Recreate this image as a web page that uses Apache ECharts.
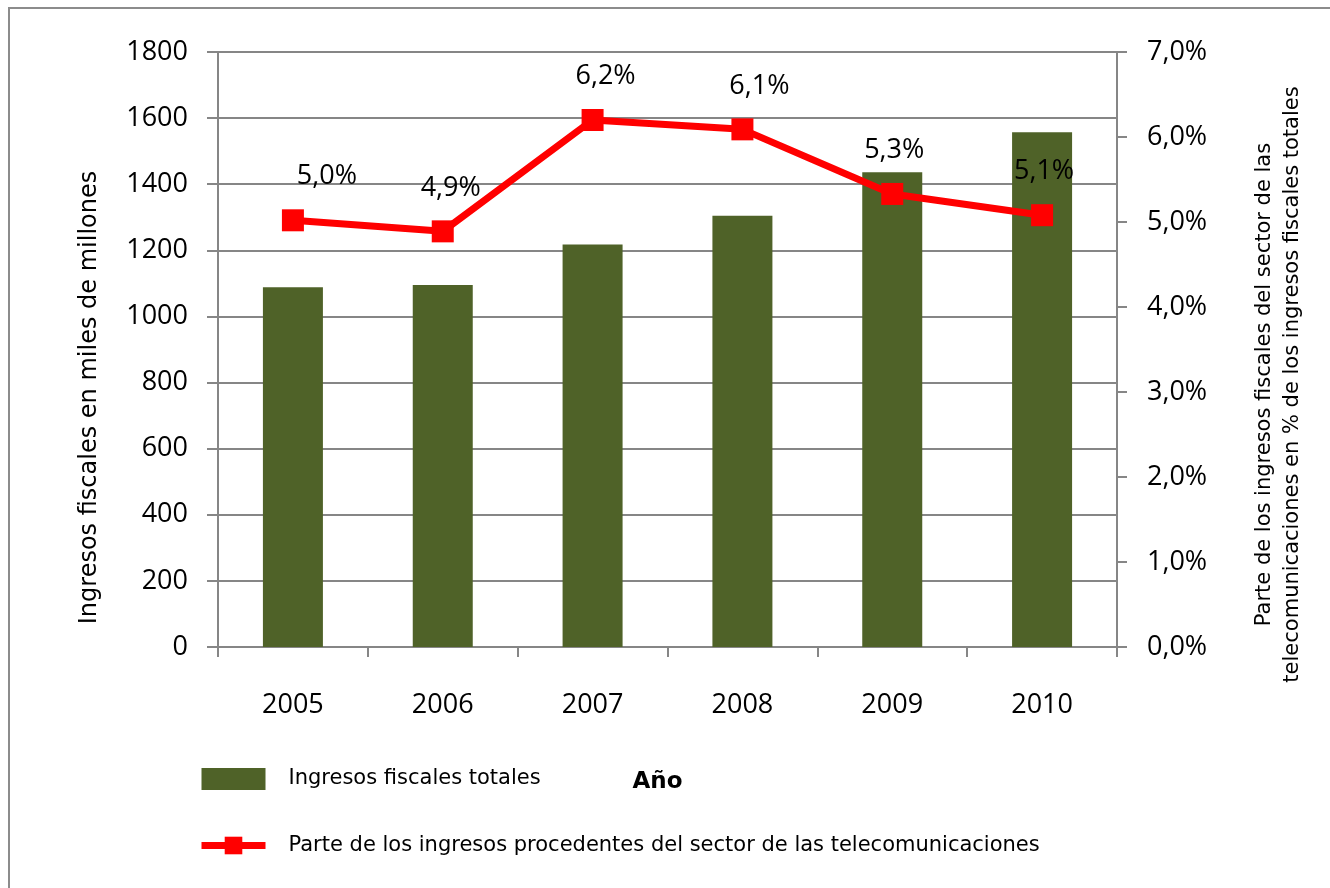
<!DOCTYPE html>
<html><head><meta charset="utf-8">
<script src="https://cdn.jsdelivr.net/npm/echarts@6/dist/echarts.min.js"></script>
<style>html,body{margin:0;padding:0;background:#fff}#c{width:1330px;height:888px}</style>
</head><body><div id="c"></div>
<script>
const categories = ['2005','2006','2007','2008','2009','2010'];
const ingresosTotales = [1088, 1095, 1218, 1305, 1436, 1557];
const parteTelecom = [5.02, 4.89, 6.2, 6.09, 5.33, 5.08];
const leftTicks = {min: 0, max: 1800, interval: 200};
const rightTicks = {min: 0, max: 7, interval: 1};
const labelDx = [34, 8, 13, 17, 2, 2];

const FONT = 'Open Sans';
const NAMEFONT = 'DejaVu Sans';
const chart = echarts.init(document.getElementById('c'));
const pct = v => v.toFixed(1).replace('.', ',') + '%';

chart.setOption({
  backgroundColor: '#fff',
  animation: false,
  graphic: [{
    type: 'rect', shape: {x: 9, y: 8, width: 1340, height: 900},
    style: {fill: 'none', stroke: '#8c8c8c', lineWidth: 2}, silent: true, z: -10
  }],
  grid: {left: 218, right: 213, top: 52, bottom: 241},
  legend: {
    orient: 'vertical', left: 193, top: 763, itemWidth: 64, itemHeight: 22, itemGap: 45,
    textStyle: {fontFamily: NAMEFONT, fontSize: 21, color: '#000', padding: [0, 0, 0, 18]},
    data: [{name: 'Ingresos fiscales totales', icon: 'rect'},
           {name: 'Parte de los ingresos procedentes del sector de las telecomunicaciones',
            lineStyle: {width: 7, color: '#FF0000'}}]
  },
  xAxis: {
    type: 'category', data: categories,
    name: 'Año', nameLocation: 'middle', nameGap: 124,
    nameTextStyle: {fontFamily: NAMEFONT, fontWeight: 'bold', fontSize: 23, color: '#000', padding: [0, 20, 0, 0]},
    axisLine: {lineStyle: {color: '#868686', width: 2}},
    axisTick: {show: true, length: 10, lineStyle: {color: '#868686', width: 2}},
    axisLabel: {fontFamily: FONT, fontSize: 27, color: '#000', margin: 45}
  },
  yAxis: [{
    type: 'value', min: leftTicks.min, max: leftTicks.max, interval: leftTicks.interval,
    name: 'Ingresos fiscales en miles de millones', nameLocation: 'middle', nameGap: 116,
    nameTextStyle: {fontFamily: NAMEFONT, fontSize: 24, color: '#000', padding: [0, 96, 0, 0]},
    axisLine: {show: true, lineStyle: {color: '#868686', width: 2}},
    axisTick: {show: true, length: 11, lineStyle: {color: '#868686', width: 2}},
    splitLine: {show: true, lineStyle: {color: '#868686', width: 2}},
    axisLabel: {fontFamily: FONT, fontSize: 27, color: '#000', margin: 30, formatter: v => String(v)}
  }, {
    type: 'value', min: rightTicks.min, max: rightTicks.max, interval: rightTicks.interval,
    position: 'right',
    name: 'Parte de los ingresos fiscales del sector de las\ntelecomunicaciones en % de los ingresos fiscales totales',
    nameLocation: 'middle', nameGap: 134,
    nameTextStyle: {fontFamily: NAMEFONT, fontSize: 21, color: '#000', lineHeight: 28, align: 'center', padding: [0, 70, 0, 0]},
    axisLine: {show: true, lineStyle: {color: '#868686', width: 2}},
    axisTick: {show: true, length: 10, lineStyle: {color: '#868686', width: 2}},
    splitLine: {show: false},
    axisLabel: {fontFamily: FONT, fontSize: 27, color: '#000', margin: 30, formatter: v => pct(v)}
  }],
  series: [{
    name: 'Ingresos fiscales totales', type: 'bar', data: ingresosTotales,
    barWidth: 60, itemStyle: {color: '#4F6228'}, z: 2
  }, {
    name: 'Parte de los ingresos procedentes del sector de las telecomunicaciones',
    type: 'line', yAxisIndex: 1,
    data: parteTelecom.map((v, i) => ({value: v, label: {offset: [labelDx[i], 0]}})),
    symbol: 'rect', symbolSize: 22,
    lineStyle: {color: '#FF0000', width: 7},
    itemStyle: {color: '#FF0000'},
    label: {show: true, position: 'top', distance: 19, fontFamily: FONT, fontSize: 27, color: '#000',
            formatter: p => pct(p.value)},
    z: 5
  }]
});
</script></body></html>
